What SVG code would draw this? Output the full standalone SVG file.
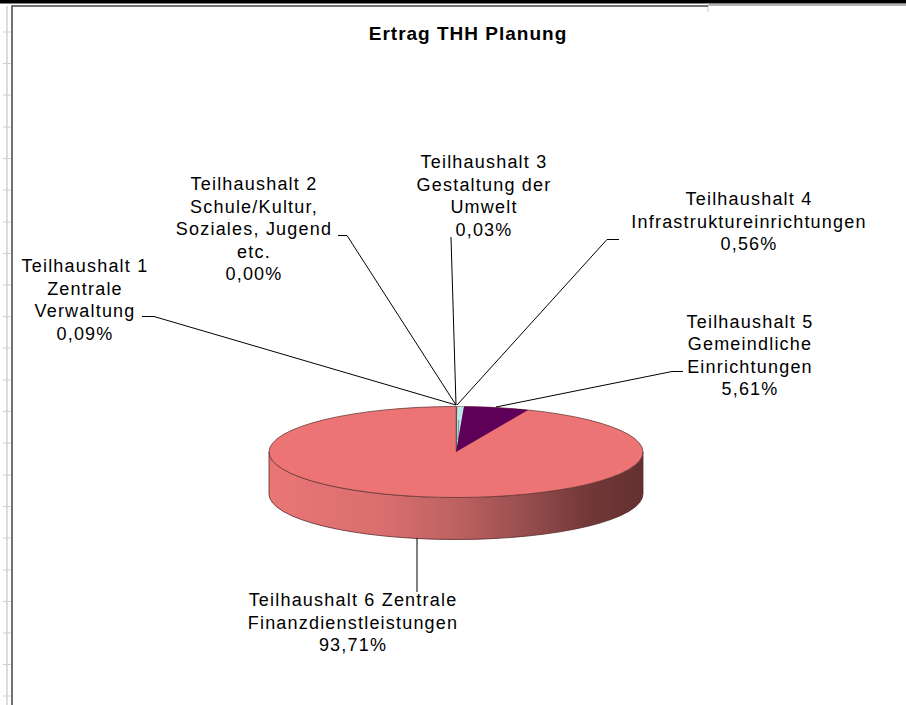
<svg xmlns="http://www.w3.org/2000/svg" width="906" height="705" viewBox="0 0 906 705">
  <style>
    .lbl { font-family: "Liberation Sans", Arial, sans-serif; font-size: 18px; letter-spacing: 1.2px; fill: #000; text-anchor: middle; }
    .title { font-family: "Liberation Sans", Arial, sans-serif; font-size: 19px; font-weight: bold; letter-spacing: 1px; fill: #000; text-anchor: middle; }
    .lead { fill: none; stroke: #000; stroke-width: 1; }
    .tick { stroke: #cfcfcf; stroke-width: 1; }
  </style>
  <defs>
    <linearGradient id="side" x1="0" y1="0" x2="1" y2="0">
      <stop offset="0" stop-color="#E97675"/>
      <stop offset="0.3" stop-color="#D96F6E"/>
      <stop offset="0.5" stop-color="#BD6262"/>
      <stop offset="0.7" stop-color="#954C4C"/>
      <stop offset="0.85" stop-color="#733838"/>
      <stop offset="1" stop-color="#633030"/>
    </linearGradient>
  </defs>
  <rect x="0" y="0" width="906" height="705" fill="#fff"/>

  <g id="frame">
    <rect x="0" y="0" width="906" height="3.5" fill="#000"/>
    <line x1="708" y1="5" x2="906" y2="5" stroke="#999" stroke-width="1.5"/>
    <line x1="708" y1="3" x2="708" y2="12" stroke="#d0d0d0" stroke-width="1"/>
    <line x1="7" y1="6" x2="7" y2="705" stroke="#dcdcdc" stroke-width="2"/>
    <g class="tick">
      <line x1="3" y1="32" x2="11" y2="32"/><line x1="3" y1="63.5" x2="11" y2="63.5"/>
      <line x1="3" y1="95" x2="11" y2="95"/><line x1="3" y1="127" x2="11" y2="127"/>
      <line x1="3" y1="158.5" x2="11" y2="158.5"/><line x1="3" y1="190" x2="11" y2="190"/>
      <line x1="3" y1="222" x2="11" y2="222"/><line x1="3" y1="253.5" x2="11" y2="253.5"/>
      <line x1="3" y1="285" x2="11" y2="285"/><line x1="3" y1="316.5" x2="11" y2="316.5"/>
      <line x1="3" y1="348" x2="11" y2="348"/><line x1="3" y1="380" x2="11" y2="380"/>
      <line x1="3" y1="411.5" x2="11" y2="411.5"/><line x1="3" y1="443" x2="11" y2="443"/>
      <line x1="3" y1="475" x2="11" y2="475"/><line x1="3" y1="506.5" x2="11" y2="506.5"/>
      <line x1="3" y1="538" x2="11" y2="538"/><line x1="3" y1="570" x2="11" y2="570"/>
      <line x1="3" y1="601.5" x2="11" y2="601.5"/><line x1="3" y1="633" x2="11" y2="633"/>
      <line x1="3" y1="664.5" x2="11" y2="664.5"/><line x1="3" y1="696" x2="11" y2="696"/>
    </g>
    <polyline points="12,705 12,6 708,6" fill="none" stroke="#444" stroke-width="1.5"/>
  </g>

  <g id="title">
    <text class="title" x="468" y="40">Ertrag THH Planung</text>
  </g>

  <g id="pie">
    <path d="M269,452 A187,45.5 0 0 0 643,452 L643,494 A187,45.5 0 0 1 269,494 Z" fill="url(#side)" stroke="#5a2a2a" stroke-width="0.8"/>
    <ellipse cx="456" cy="452" rx="187" ry="45.5" fill="#EC7474" stroke="#6b3a3a" stroke-width="0.8"/>
    <path d="M456,452 L457.4,406.5 A187,45.5 0 0 1 464,406.6 Z" fill="#B6E8E8"/>
    <line x1="456.3" y1="407" x2="456.3" y2="452" stroke="#3a4a4a" stroke-width="1"/>
    <line x1="458.5" y1="420" x2="458" y2="440" stroke="#7a9090" stroke-width="1"/>
    <path d="M456,452 L464,406.6 A187,45.5 0 0 1 528,410 Z" fill="#5E0057"/>
  </g>

  <g id="connectors">
    <polyline class="lead" points="142,316.5 154,316.5 456,405"/>
    <polyline class="lead" points="338,235.5 347,235.5 456,405"/>
    <polyline class="lead" points="451,237 456,405"/>
    <polyline class="lead" points="619,239.5 607,239.5 457,405"/>
    <polyline class="lead" points="683,371.5 672,371.5 496,407"/>
    <line class="lead" x1="417" y1="538" x2="417" y2="592"/>
  </g>

  <g id="th1">
    <text class="lbl" x="85" y="272">Teilhaushalt 1</text>
    <text class="lbl" x="85" y="294.5">Zentrale</text>
    <text class="lbl" x="85" y="317">Verwaltung</text>
    <text class="lbl" x="85" y="339.5">0,09%</text>
  </g>
  <g id="th2">
    <text class="lbl" x="254" y="190">Teilhaushalt 2</text>
    <text class="lbl" x="254" y="212.5">Schule/Kultur,</text>
    <text class="lbl" x="254" y="235">Soziales, Jugend</text>
    <text class="lbl" x="254" y="257.5">etc.</text>
    <text class="lbl" x="254" y="280">0,00%</text>
  </g>
  <g id="th3">
    <text class="lbl" x="484" y="168">Teilhaushalt 3</text>
    <text class="lbl" x="484" y="190.5">Gestaltung der</text>
    <text class="lbl" x="484" y="213">Umwelt</text>
    <text class="lbl" x="484" y="235.5">0,03%</text>
  </g>
  <g id="th4">
    <text class="lbl" x="749" y="205">Teilhaushalt 4</text>
    <text class="lbl" x="749" y="227.5">Infrastruktureinrichtungen</text>
    <text class="lbl" x="749" y="250">0,56%</text>
  </g>
  <g id="th5">
    <text class="lbl" x="750" y="327.5">Teilhaushalt 5</text>
    <text class="lbl" x="750" y="350">Gemeindliche</text>
    <text class="lbl" x="750" y="372.5">Einrichtungen</text>
    <text class="lbl" x="750" y="395">5,61%</text>
  </g>
  <g id="th6">
    <text class="lbl" x="353" y="606">Teilhaushalt 6 Zentrale</text>
    <text class="lbl" x="353" y="628.5">Finanzdienstleistungen</text>
    <text class="lbl" x="353" y="651">93,71%</text>
  </g>
</svg>
